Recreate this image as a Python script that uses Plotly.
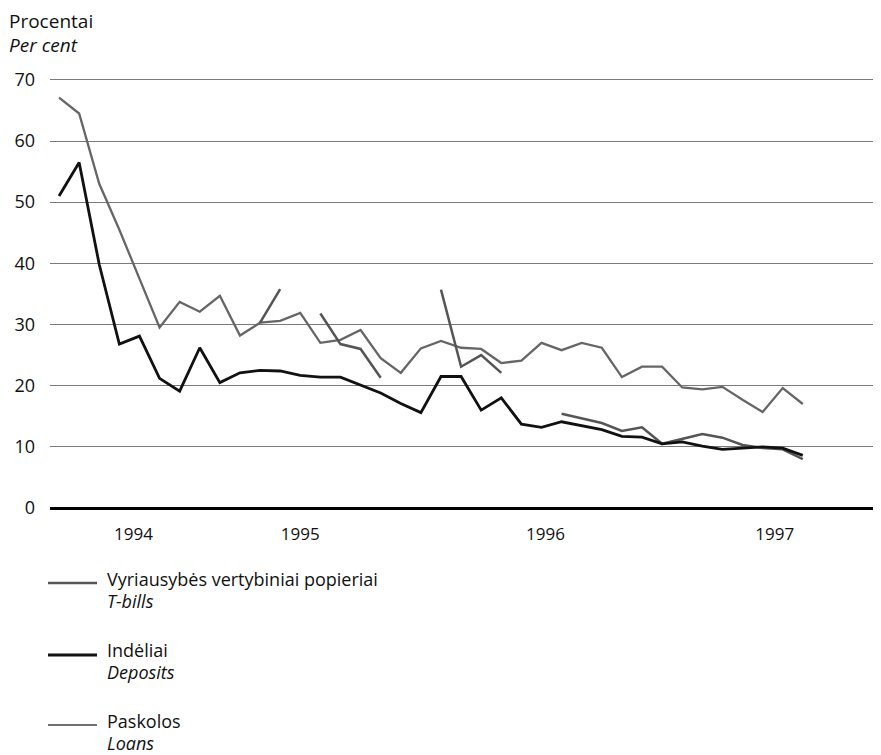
import plotly.graph_objects as go

# ---- data (monthly, Jan 1994 .. Feb 1997) ----
months = [f"{1994 + i // 12}-{i % 12 + 1:02d}" for i in range(38)]

loans = [67.1, 64.5, 53.0, 45.5, 37.5, 29.5, 33.7, 32.1, 34.7, 28.2,
         30.3, 30.6, 31.9, 27.0, 27.5, 29.1, 24.5, 22.1, 26.1, 27.3,
         26.2, 26.0, 23.7, 24.1, 27.0, 25.8, 27.0, 26.2, 21.4, 23.1,
         23.1, 19.7, 19.4, 19.8, 17.7, 15.7, 19.6, 17.0]

deposits = [51.0, 56.5, 39.8, 26.8, 28.1, 21.2, 19.1, 26.2, 20.5, 22.1,
            22.5, 22.4, 21.7, 21.4, 21.4, 20.1, 18.8, 17.1, 15.6, 21.5,
            21.5, 16.0, 18.0, 13.7, 13.2, 14.1, 13.5, 12.8, 11.7, 11.6,
            10.5, 10.8, 10.1, 9.6, 9.8, 10.0, 9.8, 8.6]

tbills = [None, None, None, None, None, None, None, None, None, None,
          30.3, 35.8, None, 31.8, 26.8, 26.0, 21.3, None, None, 35.7,
          23.1, 25.0, 22.1, None, None, 15.4, 14.7, 13.9, 12.6, 13.2,
          10.5, 11.3, 12.1, 11.5, 10.3, 9.8, 9.6, 8.0]

year_labels = ["1994", "1995", "1996", "1997"]
year_tick_pos = [3.7, 12, 24.2, 35.6]
y_ticks = [0, 10, 20, 30, 40, 50, 60, 70]

x = list(range(len(months)))

FONT = "Open Sans"
OFF = 8  # page body margin
W, H = 873, 747
ML, MR, MT, MB = 42, 3, 70, 247
PW, PH = W - ML - MR, H - MT - MB


def px(xp):
    return (xp - OFF - ML) / PW


def py(yp):
    return (H - MB - (yp - OFF)) / PH


fig = go.Figure()
fig.add_trace(go.Scatter(x=x, y=loans, mode="lines", name="Paskolos",
                         text=months, line=dict(color="#666666", width=2.3),
                         showlegend=False))
fig.add_trace(go.Scatter(x=x, y=tbills, mode="lines", name="Vyriausybės vertybiniai popieriai",
                         text=months, connectgaps=False,
                         line=dict(color="#555555", width=2.5), showlegend=False))
fig.add_trace(go.Scatter(x=x, y=deposits, mode="lines", name="Indėliai",
                         text=months, line=dict(color="#111111", width=2.8),
                         showlegend=False))

fig.update_layout(
    width=W, height=H,
    margin=dict(l=ML, r=MR, t=MT, b=MB, pad=0),
    paper_bgcolor="white", plot_bgcolor="white",
    font=dict(family=FONT, size=18, color="#111111"),
    xaxis=dict(range=[-0.45, 40.74], showgrid=False, zeroline=False,
               tickvals=year_tick_pos, ticktext=year_labels, ticks="",
               showline=False, tickfont=dict(size=17), ticklabelstandoff=14),
    yaxis=dict(range=[0, 70.3], tickvals=y_ticks, showgrid=True,
               gridcolor="#7a7a7a", gridwidth=1.2, zeroline=True,
               zerolinecolor="#000000", zerolinewidth=3, ticks="",
               showline=False, ticklabelstandoff=14, tickfont=dict(size=18)),
    showlegend=False,
)

# axis title lines
fig.add_annotation(text="Procentai", xref="paper", yref="paper", x=px(7), y=py(21),
                   xanchor="left", yanchor="middle", showarrow=False,
                   font=dict(size=19))
fig.add_annotation(text="<i>Per cent</i>", xref="paper", yref="paper", x=px(7), y=py(45),
                   xanchor="left", yanchor="middle", showarrow=False,
                   font=dict(size=19))

# legend (built manually)
legend_items = [
    ("Vyriausybės vertybiniai popieriai", "T-bills", "#555555", 2.5, 583, 579),
    ("Indėliai", "Deposits", "#111111", 2.8, 655, 650),
    ("Paskolos", "Loans", "#707070", 2.0, 725, 721),
]
for lt, en, col, wd, ly, ty in legend_items:
    fig.add_shape(type="line", xref="paper", yref="paper",
                  x0=px(48), x1=px(97), y0=py(ly), y1=py(ly),
                  line=dict(color=col, width=wd))
    fig.add_annotation(text=lt, xref="paper", yref="paper",
                       x=px(105), y=py(ty), xanchor="left", yanchor="middle",
                       align="left", showarrow=False, font=dict(size=18))
    fig.add_annotation(text=f"<i>{en}</i>", xref="paper", yref="paper",
                       x=px(105), y=py(ty + 22), xanchor="left", yanchor="middle",
                       align="left", showarrow=False, font=dict(size=18))

fig.write_html("out.html")
